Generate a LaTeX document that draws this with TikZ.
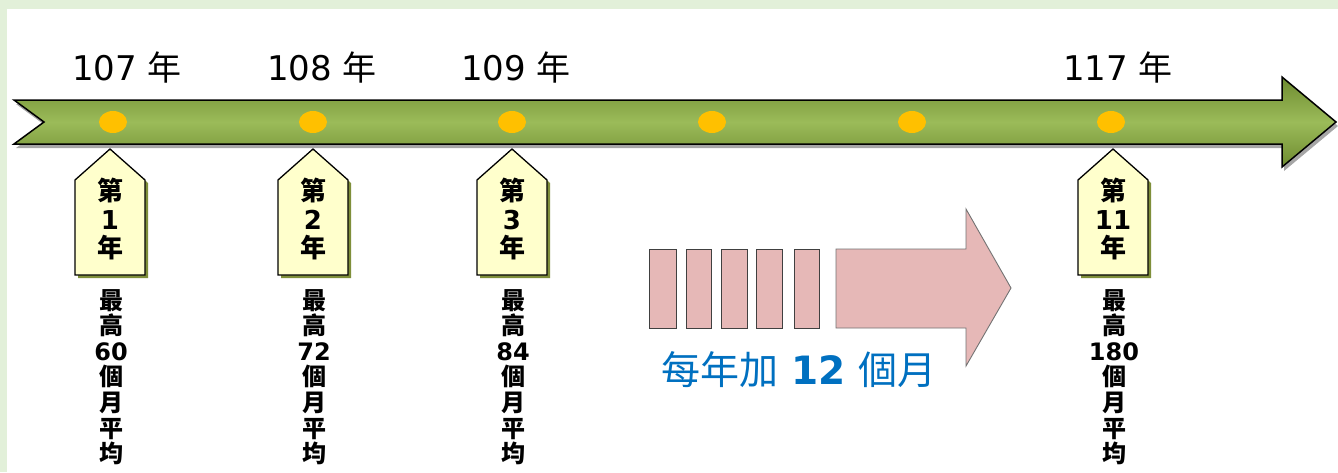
\documentclass[tikz,border=0pt]{standalone}
\usepackage{fontspec}
\setmainfont{DejaVu Sans}
\newfontfamily\cjk{Noto Sans CJK TC}
\usetikzlibrary{shadows,shapes.geometric}
\definecolor{bgg}{HTML}{E2F0D9}
\definecolor{gdark}{HTML}{6E8B30}
\definecolor{glight}{HTML}{9BBB59}
\definecolor{dotc}{HTML}{FFC000}
\definecolor{tagc}{HTML}{FFFFCC}
\definecolor{tagsh}{HTML}{7F8F3A}
\definecolor{pinkc}{HTML}{E6B8B7}
\definecolor{bluec}{HTML}{0070C0}
\tikzset{
  dot/.style={ellipse,fill=dotc,minimum width=28pt,minimum height=22pt,inner sep=0pt},
  yearlbl/.style={font=\fontsize{34}{38}\selectfont,inner sep=0pt},
  tagtxt/.style={font=\fontsize{26}{28.5}\selectfont\bfseries,align=center,inner sep=0pt},
  vtxt/.style={font=\fontsize{24}{25.6}\selectfont\bfseries,align=center,inner sep=0pt,anchor=north},
  tagshape/.style={draw=black,line width=1.3pt,fill=tagc,line join=miter,
     drop shadow={shadow xshift=3pt,shadow yshift=-3pt,fill=tagsh,opacity=1}},
  pinkbox/.style={draw=black!75,line width=0.9pt,fill=pinkc},
  bigarrow/.style={draw=black!55,line width=0.9pt,fill=pinkc},
}
\begin{document}
\begin{tikzpicture}[x=1pt,y=-1pt]
\fill[bgg] (0,0) rectangle (1338,472);
\fill[white] (7,9) rectangle (1338,472);
\useasboundingbox (0,0) rectangle (1338,472);
% green timeline arrow
\path[draw=black,line width=1.5pt,line join=miter,top color=gdark,bottom color=gdark,middle color=glight,
  drop shadow={shadow xshift=2pt,shadow yshift=-4pt,fill=black,opacity=0.35}]
  (14,100) -- (1282,100) -- (1282,77) -- (1336,122) -- (1282,167) -- (1282,144) -- (14,144) -- (44,122) -- cycle;
% dots
\foreach \i/\x in {1/113,2/313,3/512,4/712,5/912,6/1111}{
  \node[dot] (d\i) at (\x,122) {};
}
% year labels
\node[yearlbl] (y1) at (127,68) {107 {\cjk 年}};
\node[yearlbl] (y2) at (322,68) {108 {\cjk 年}};
\node[yearlbl] (y3) at (516,68) {109 {\cjk 年}};
\node[yearlbl] (y4) at (1118,68) {117 {\cjk 年}};
% tags
\foreach \x/\n/\m/\nm in {110/1/60/t1,313/2/72/t2,512/3/84/t3,1113/11/180/t4}{
  \path[tagshape] (\x,149) -- (\x+35,180) -- (\x+35,275) -- (\x-35,275) -- (\x-35,180) -- cycle;
  \node[tagtxt] (\nm) at (\x,219) {{\cjk\bfseries 第}\\\n\\{\cjk\bfseries 年}};
  \node[vtxt] (v\nm) at (\x+1,289) {{\cjk\bfseries 最}\\{\cjk\bfseries 高}\\\m\\{\cjk\bfseries 個}\\{\cjk\bfseries 月}\\{\cjk\bfseries 平}\\{\cjk\bfseries 均}};
}
% pink boxes
\foreach \a/\b [count=\k] in {649/676,686/711,721/747,756/782,794/819}{
  \path[pinkbox] (\a,249) rectangle (\b,328);
  \coordinate (p\k) at (\a,288);
}
\path[bigarrow] (836,249) -- (966,249) -- (966,209) -- (1011,288) -- (966,366) -- (966,328) -- (836,328) -- cycle;
\node[font=\fontsize{39}{42}\selectfont,text=bluec,inner sep=0pt] (inc) at (799,370) {{\cjk 每年加} \textbf{12} {\cjk 個月}};
\end{tikzpicture}
\end{document}
